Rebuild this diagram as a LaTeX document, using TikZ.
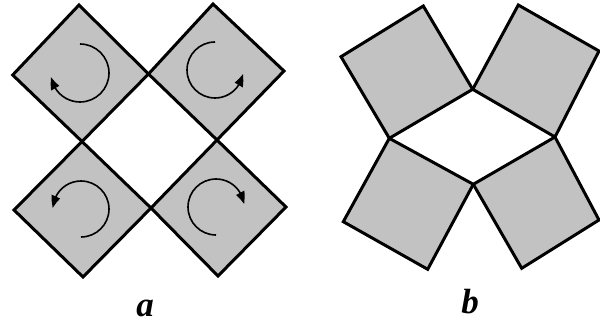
\documentclass[tikz,border=0pt]{standalone}
\usepackage{fontspec}
\setmainfont{Liberation Serif}
\usetikzlibrary{arrows.meta,bending}
\definecolor{tile}{gray}{0.76}
\tikzset{
  tilebox/.style={fill=tile, draw=black, line width=3pt, line join=miter},
  spin/.style={draw=black, line width=1.6pt, -{Triangle[length=12pt,width=9pt,bend]}},
  lab/.style={anchor=base, inner sep=0pt, font=\fontsize{35}{35}\selectfont\bfseries\itshape}
}
\begin{document}
\begin{tikzpicture}[x=1pt,y=1pt]
\useasboundingbox (0,-326) rectangle (600,0);
% panel a
\draw[tilebox] (79,-5) -- (12.7,-75) -- (82,-141.5) -- (148.5,-74) -- cycle;
\draw[tilebox] (213,-4) -- (148.5,-74) -- (217,-140) -- (284,-71) -- cycle;
\draw[tilebox] (82,-141.5) -- (14,-210) -- (83,-277) -- (151,-208) -- cycle;
\draw[tilebox] (217,-140) -- (151,-208) -- (218,-276) -- (286,-207) -- cycle;
\coordinate (c1) at (80,-73);
\coordinate (c2) at (215,-70);
\coordinate (c3) at (81,-209);
\coordinate (c4) at (216,-207);
\draw[spin] (c1) ++(90:29) arc[start angle=90, end angle=-172, radius=29];
\draw[spin] (c2) ++(90:28) arc[start angle=90, end angle=352, radius=28];
\draw[spin] (c3) ++(-90:28) arc[start angle=-90, end angle=178, radius=28];
\draw[spin] (c4) ++(270:28) arc[start angle=270, end angle=6, radius=28];
% panel b
\draw[tilebox] (423.3,-6) -- (341,-56.7) -- (389.3,-138.3) -- (472.7,-89.3) -- cycle;
\draw[tilebox] (472.7,-89.3) -- (518.3,-5) -- (599,-51) -- (555,-137) -- cycle;
\draw[tilebox] (389.3,-138.3) -- (473.3,-184.3) -- (427.7,-269.3) -- (343.3,-221.7) -- cycle;
\draw[tilebox] (473.3,-184.3) -- (555,-137) -- (599,-220) -- (521.7,-268.3) -- cycle;
% labels
\node[lab] (la) at (145,-316) {a};
\node[lab] (lb) at (470,-313) {b};
\end{tikzpicture}
\end{document}
